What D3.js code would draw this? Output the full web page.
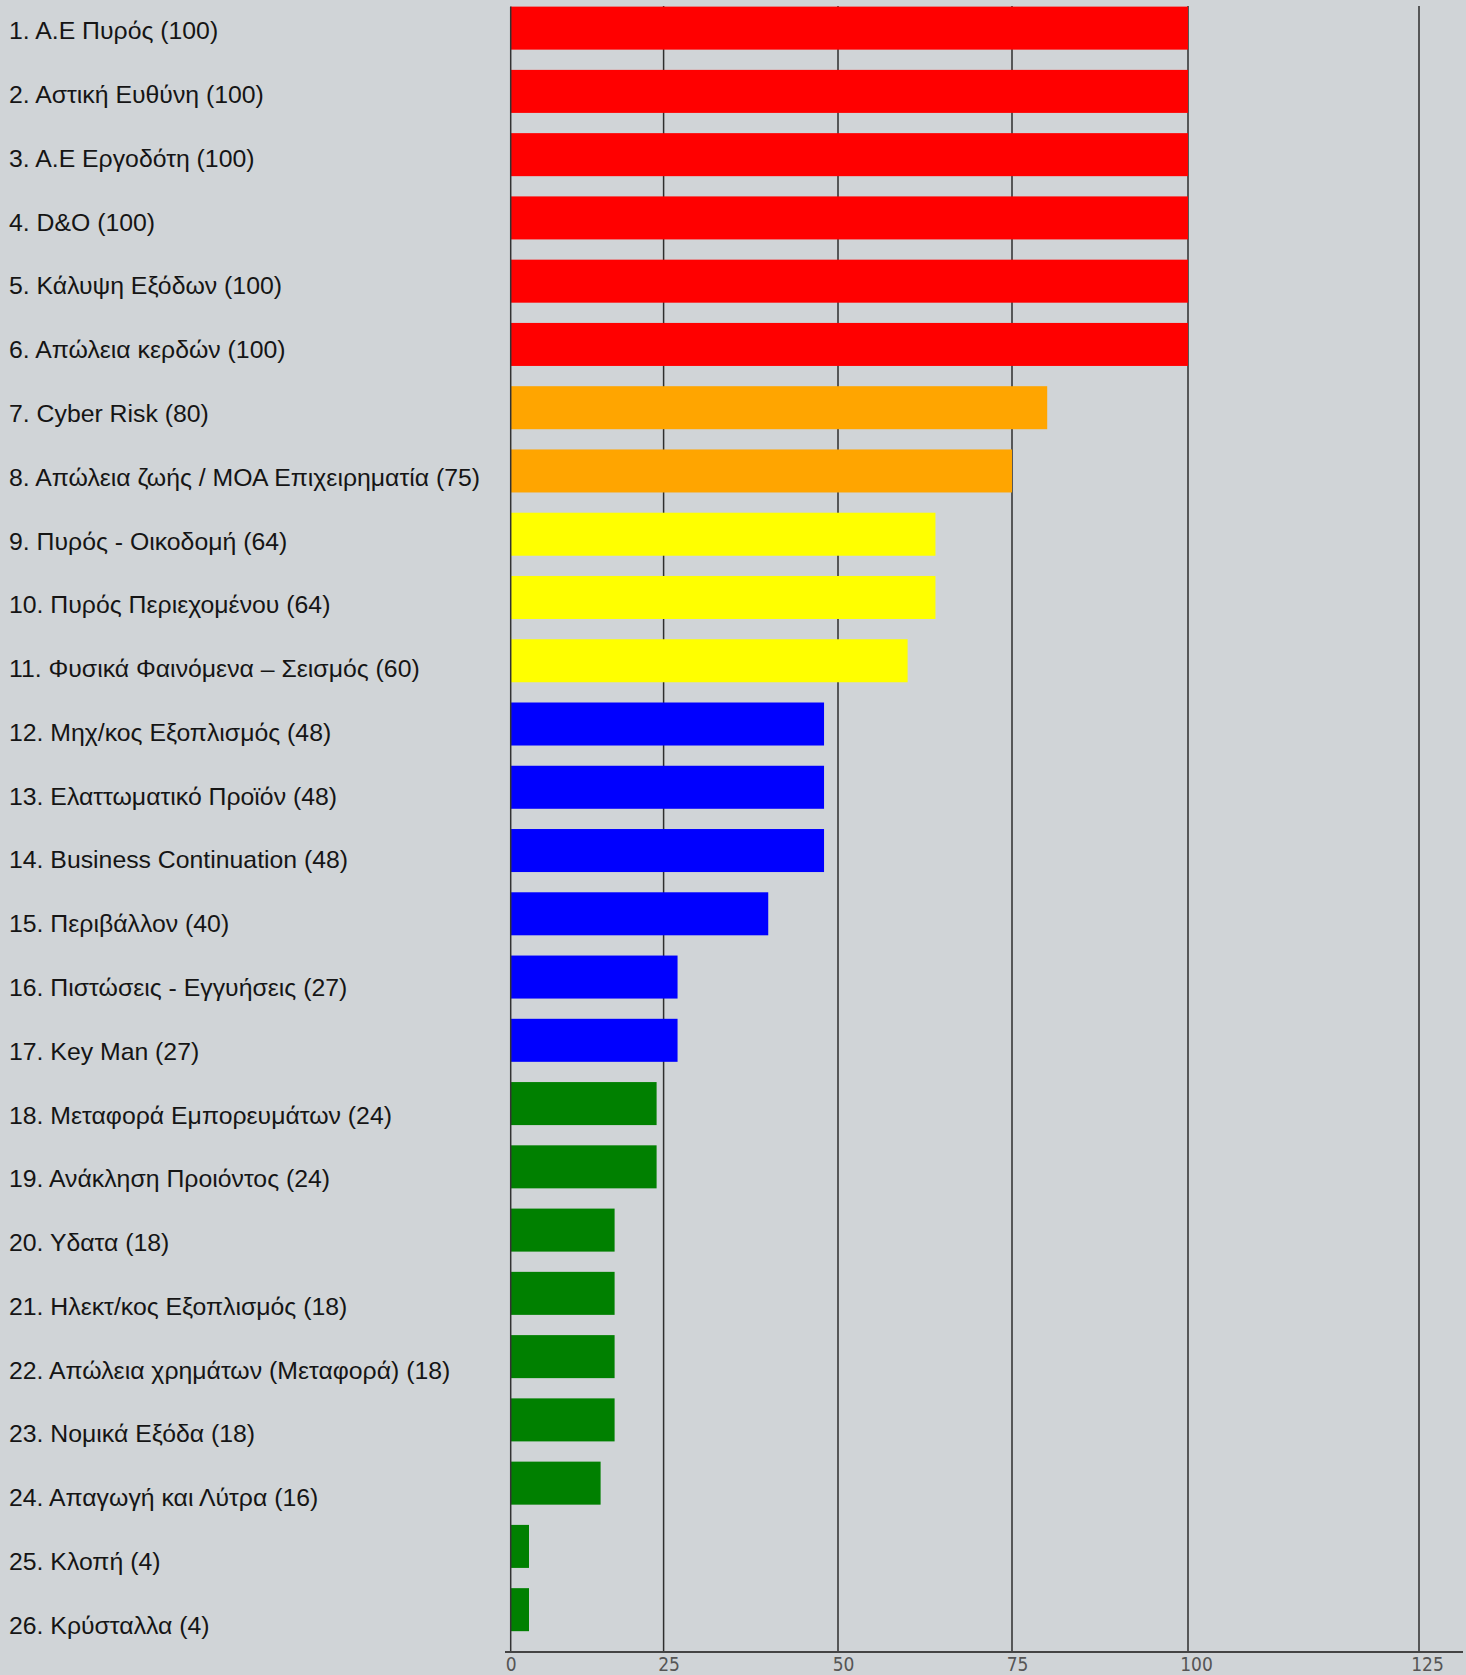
<!DOCTYPE html>
<html>
<head>
<meta charset="utf-8">
<script src="https://cdn.jsdelivr.net/npm/d3@7"></script>
<style>
  html, body { margin: 0; padding: 0; background: #d0d4d7; }
  svg { display: block; }
  .lbl { font-family: "Liberation Sans", Arial, sans-serif; font-size: 24.8px; fill: #151515; }
  .tick text { font-family: "DejaVu Sans Condensed", "DejaVu Sans", sans-serif; font-stretch: condensed; font-size: 19px; fill: #555; }
</style>
</head>
<body>
<script>
// data
const names = [
  "Α.Ε Πυρός", "Αστική Ευθύνη", "Α.Ε Εργοδότη", "D&O", "Κάλυψη Εξόδων",
  "Απώλεια κερδών", "Cyber Risk", "Απώλεια ζωής / ΜΟΑ Επιχειρηματία",
  "Πυρός - Οικοδομή", "Πυρός Περιεχομένου", "Φυσικά Φαινόμενα – Σεισμός",
  "Μηχ/κος Εξοπλισμός", "Ελαττωματικό Προϊόν", "Business Continuation",
  "Περιβάλλον", "Πιστώσεις - Εγγυήσεις", "Key Man", "Μεταφορά Εμπορευμάτων",
  "Ανάκληση Προιόντος", "Υδατα", "Ηλεκτ/κος Εξοπλισμός",
  "Απώλεια χρημάτων (Μεταφορά)", "Νομικά Εξόδα", "Απαγωγή και Λύτρα",
  "Κλοπή", "Κρύσταλλα"
];
const values = [100, 100, 100, 100, 100, 100, 80, 75, 64, 64, 60, 48, 48, 48, 40, 27, 27, 24, 24, 18, 18, 18, 18, 16, 4, 4];
const tickValues = [0, 25, 50, 75, 100, 125];
const tierBreaks = [25, 50, 70, 100];
const tierColors = ["#008000", "#0000ff", "#ffff00", "#ffa500", "#ff0000"];

const data = names.map((n, i) => ({
  label: (i + 1) + ". " + n + " (" + values[i] + ")",
  key: i,
  value: values[i]
}));

const W = 1466, H = 1675;
const axisY = 1652;

const svg = d3.select("body").append("svg")
  .attr("width", W)
  .attr("height", H);

// the source axis is not evenly spaced, so the scale is piecewise
const x = d3.scaleLinear()
  .domain([0, 4, 16, 25, 50, 75, 100, 125])
  .range([510.7, 529, 600.6, 663.6, 838, 1012, 1188, 1419]);

const y = d3.scaleBand()
  .domain(data.map(d => d.key))
  .range([-3.5, 1641.3])
  .paddingInner(0.32)
  .paddingOuter(0.16);

// the row labels sit on a slightly wider pitch than the bars
const yLabel = d3.scalePoint()
  .domain(data.map(d => d.key))
  .range([30.7, 1625]);

const color = d3.scaleThreshold()
  .domain(tierBreaks)
  .range(tierColors);

// grid
svg.append("g")
  .selectAll("line")
  .data(tickValues.slice(1))
  .enter()
  .append("line")
  .attr("x1", d => x(d))
  .attr("x2", d => x(d))
  .attr("y1", 6)
  .attr("y2", axisY)
  .attr("stroke", "#2e2e2e")
  .attr("stroke-width", 1.5);

// bars
svg.append("g")
  .selectAll("rect")
  .data(data)
  .enter()
  .append("rect")
  .attr("x", x(0))
  .attr("y", d => y(d.key))
  .attr("width", d => x(d.value) - x(0))
  .attr("height", y.bandwidth())
  .attr("fill", d => color(d.value));

// left axis line
svg.append("line")
  .attr("x1", x(0)).attr("x2", x(0))
  .attr("y1", y(0)).attr("y2", axisY)
  .attr("stroke", "#333")
  .attr("stroke-width", 1.5);

// labels
svg.append("g")
  .selectAll("text")
  .data(data)
  .enter()
  .append("text")
  .attr("class", "lbl")
  .attr("x", 9)
  .attr("y", d => yLabel(d.key))
  .attr("dy", "0.35em")
  .text(d => d.label);

// bottom axis
const gx = svg.append("g")
  .attr("transform", "translate(0," + axisY + ")")
  .call(d3.axisBottom(x).tickValues(tickValues).tickSize(0).tickPadding(6).tickFormat(d3.format("d")));
gx.select(".domain").remove();
gx.selectAll(".tick text").attr("dx", d => d === 0 ? 0 : (d >= 100 ? 8 : 5));

svg.append("line")
  .attr("x1", 505).attr("x2", 1463)
  .attr("y1", axisY).attr("y2", axisY)
  .attr("stroke", "#444")
  .attr("stroke-width", 2);
</script>
</body>
</html>
